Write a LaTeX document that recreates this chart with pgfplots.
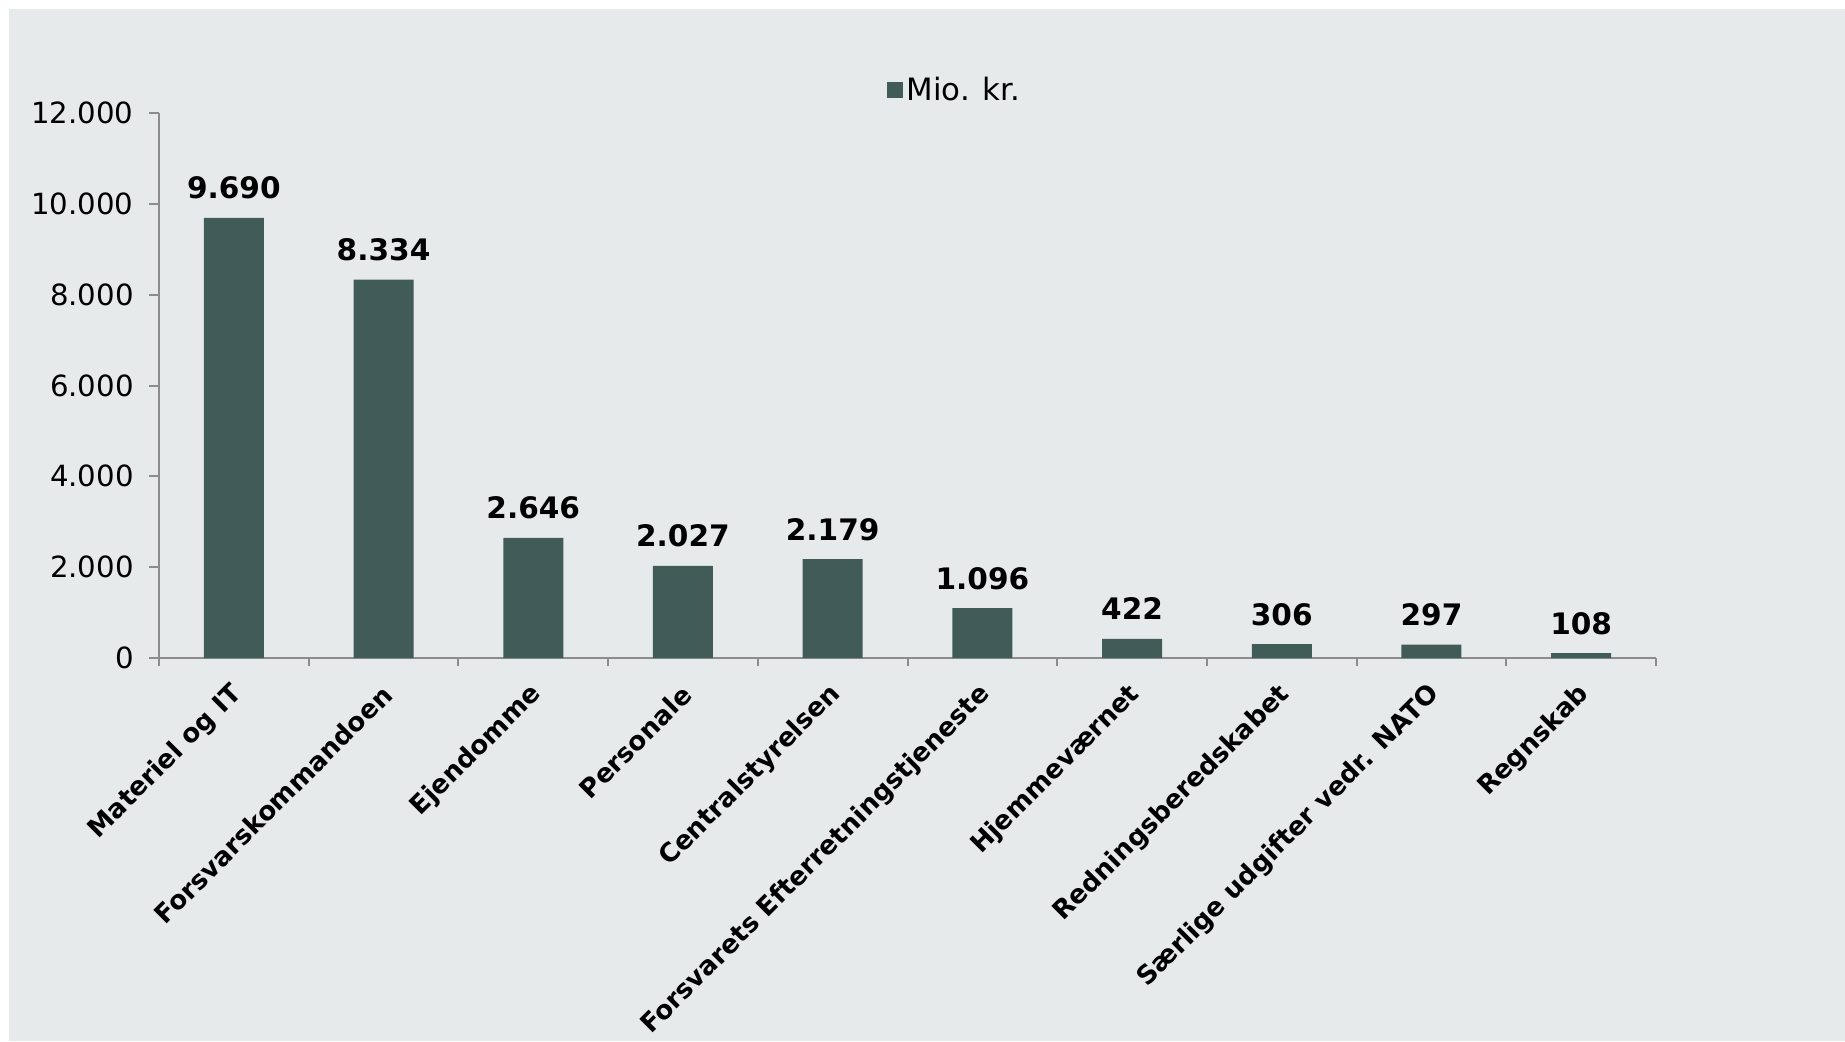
\documentclass[border=0pt]{standalone}
\usepackage{fontspec}
\setmainfont{DejaVu Sans}
\usepackage{pgfplots}
\pgfplotsset{compat=1.18}
\definecolor{bg}{HTML}{E7EAEB}
\definecolor{barcol}{HTML}{415B58}
\definecolor{axisgray}{HTML}{8C8C8C}

\begin{document}
\begin{tikzpicture}
\fill[white] (-79.5pt,-191.5pt) rectangle (843pt,329pt);
\fill[bg] (-75pt,-191.5pt) rectangle (843pt,324.5pt);
\begin{axis}[
  scale only axis, width=748.5pt, height=272.5pt,
  ymin=0, ymax=12000, xmin=-0.5, xmax=9.5,
  ybar, bar width=30pt,
  axis lines=left,
  axis line style={draw=axisgray, line width=1pt, -},
  tick align=outside,
  major tick length=5pt, minor tick length=4pt,
  tick style={draw=axisgray, line width=1pt},
  ytick={0,2000,...,12000},
  scaled y ticks=false,
  yticklabel style={/pgf/number format/fixed, /pgf/number format/precision=0,
    /pgf/number format/1000 sep={.}, /pgf/number format/assume math mode=true,
    font=\fontsize{14.6}{17}\selectfont, anchor=east, inner sep=0pt, xshift=-7.5pt},
  xtick={0,...,9},
  xtick style={draw=none},
  minor xtick={-0.5,0.5,...,9.5},
  minor x tick style={draw=axisgray, line width=1pt},
  xticklabels={Materiel og IT, Forsvarskommandoen, Ejendomme, Personale, Centralstyrelsen, Forsvarets Efterretningstjeneste, Hjemmeværnet, Redningsberedskabet, Særlige udgifter vedr. NATO, Regnskab},
  xticklabel style={font=\bfseries\fontsize{13}{15}\selectfont, xshift=2pt, yshift=-11pt, anchor=east, rotate=45, inner sep=0pt},
  nodes near coords={\pgfmathprintnumber[fixed,precision=0,1000 sep={.},assume math mode=true]{\pgfplotspointmeta}},
  nodes near coords style={font=\bfseries\fontsize{14.8}{17}\selectfont, anchor=base, inner sep=0pt, yshift=9.5pt},
  legend style={at={(0.532,1.042)}, anchor=center, draw=none, fill=none, font=\fontsize{15.4}{18}\selectfont},
]
\addplot[fill=barcol, draw=none, bar shift=0pt,
  legend image code/.code={\fill[barcol] (0pt,-4pt) rectangle (8pt,4pt);}]
  coordinates {(0,9690) (1,8334) (2,2646) (3,2027) (4,2179) (5,1096) (6,422) (7,306) (8,297) (9,108)};
\addlegendentry{Mio. kr.}
\end{axis}
\pgfresetboundingbox
\useasboundingbox (-79.5pt,-191.5pt) rectangle (843pt,329pt);
\end{tikzpicture}
\end{document}
